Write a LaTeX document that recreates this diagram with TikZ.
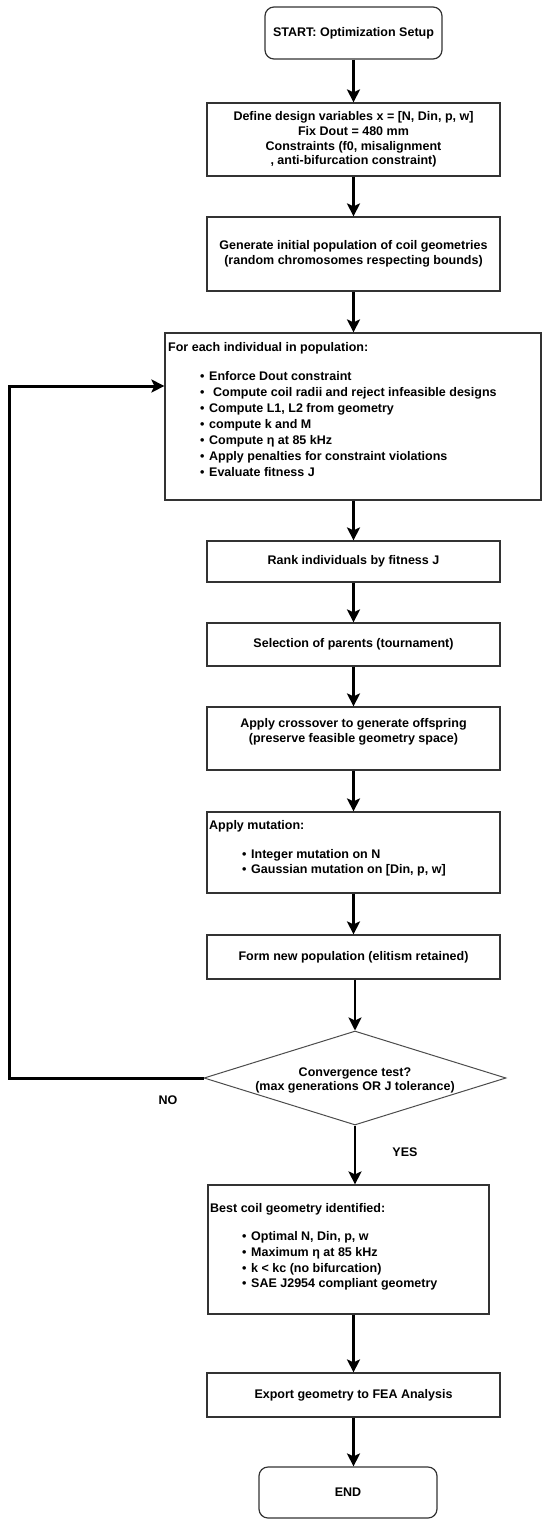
\documentclass[tikz,border=0pt]{standalone}
\usepackage{fontspec}
\setmainfont{Liberation Sans}
\usetikzlibrary{arrows.meta,shapes.geometric}
\begin{document}
\begin{tikzpicture}[x=1pt,y=-1pt,
  font=\fontsize{12.5}{14.8}\selectfont\bfseries,
  box/.style={draw=black!80, line width=1.2pt, inner sep=0pt, fill=white, align=center},
  rbox/.style={box, rounded corners=9pt},
  arr/.style={line width=2.6pt, -{Stealth[length=13pt,width=13pt,inset=3pt]}},
  loopline/.style={line width=3pt, -{Stealth[length=13pt,width=13pt,inset=3pt]}},
  txt/.style={inner sep=0pt, align=center},
  lt/.style={inner sep=0pt, anchor=base west},
  lbl/.style={inner sep=0pt},
]
\useasboundingbox (0,0) rectangle (550,1524);

% boxes
\node[rbox, minimum width=177pt, minimum height=52pt] (start) at (353.5,33) {START: Optimization Setup};
\node[box, minimum width=293pt, minimum height=73pt] (def) at (353.5,139.5)
  {Define design variables x = [N, Din, p, w]\\Fix Dout = 480 mm\\Constraints (f0, misalignment\\, anti-bifurcation constraint)};
\node[box, minimum width=293pt, minimum height=74pt] (gen) at (353.5,254)
  {Generate initial population of coil geometries\\(random chromosomes respecting bounds)};
\node[box, minimum width=376pt, minimum height=167pt] (each) at (353,416.5) {};
\node[box, minimum width=293pt, minimum height=41pt] (rank) at (353.5,561.5) {Rank individuals by fitness J};
\node[box, minimum width=293pt, minimum height=43pt] (sel) at (353.5,644.5) {Selection of parents (tournament)};
\node[box, minimum width=293pt, minimum height=63pt] (cross) at (353.5,738.5) {};
\node[box, minimum width=293pt, minimum height=81pt] (mut) at (353.5,852.5) {};
\node[box, minimum width=293pt, minimum height=44pt] (form) at (353.5,957) {Form new population (elitism retained)};
\node[draw=black!70, line width=1pt, shape=diamond, inner sep=0pt, minimum width=302pt, minimum height=94pt, fill=white] (conv) at (355,1078) {};
\node[box, minimum width=281pt, minimum height=129pt] (best) at (348.5,1249.5) {};
\node[box, minimum width=293pt, minimum height=44pt] (export) at (353.5,1395) {Export geometry to FEA Analysis};
\node[rbox, minimum width=178pt, minimum height=51pt] (end) at (348,1492.5) {END};

% texts inside boxes
\node[txt] (crosst) at (353.5,731.5) {Apply crossover to generate offspring\\(preserve feasible geometry space)};
\node[txt] (convt) at (355,1080.5) {Convergence test?\\(max generations OR J tolerance)};

\node[lt] (e0) at (168,351) {For each individual in population:};
\node[lt] (e1) at (200,380) {\makebox[9pt][l]{\textbullet}Enforce Dout constraint};
\node[lt] (e2) at (200,396) {\makebox[13pt][l]{\textbullet}Compute coil radii and reject infeasible designs};
\node[lt] (e3) at (200,412) {\makebox[9pt][l]{\textbullet}Compute L1, L2 from geometry};
\node[lt] (e4) at (200,428) {\makebox[9pt][l]{\textbullet}compute k and M};
\node[lt] (e5) at (200,444) {\makebox[9pt][l]{\textbullet}Compute η at 85 kHz};
\node[lt] (e6) at (200,460) {\makebox[9pt][l]{\textbullet}Apply penalties for constraint violations};
\node[lt] (e7) at (200,476) {\makebox[9pt][l]{\textbullet}Evaluate fitness J};

\node[lt] (m0) at (209,829) {Apply mutation:};
\node[lt] (m1) at (242,858) {\makebox[9pt][l]{\textbullet}Integer mutation on N};
\node[lt] (m2) at (242,873) {\makebox[9pt][l]{\textbullet}Gaussian mutation on [Din, p, w]};

\node[lt] (b0) at (210,1212) {Best coil geometry identified:};
\node[lt] (b1) at (242,1240) {\makebox[9pt][l]{\textbullet}Optimal N, Din, p, w};
\node[lt] (b2) at (242,1256) {\makebox[9pt][l]{\textbullet}Maximum η at 85 kHz};
\node[lt] (b3) at (242,1272) {\makebox[9pt][l]{\textbullet}k < kc (no bifurcation)};
\node[lt] (b4) at (242,1287) {\makebox[9pt][l]{\textbullet}SAE J2954 compliant geometry};

% labels
\node[lbl] (no) at (168,1100) {NO};
\node[lbl] (yes) at (405,1152) {YES};

% connectors
\draw[arr] (start.south -| def.north) -- (def.north);
\draw[arr] (def.south) -- (gen.north);
\draw[arr] (gen.south) -- (gen.south |- each.north);
\draw[arr] (each.south -| rank.north) -- (rank.north);
\draw[arr] (rank.south) -- (sel.north);
\draw[arr] (sel.south) -- (cross.north);
\draw[arr] (cross.south) -- (mut.north);
\draw[arr] (mut.south) -- (form.north);
\draw[arr] (form.south -| conv.north) -- (conv.north);
\draw[arr] (conv.south) -- (conv.south |- best.north);
\draw[arr] (best.south -| export.north) -- (export.north);
\draw[arr] (export.south) -- (export.south |- end.north);

\coordinate (lp1) at (9,1078);
\coordinate (lp2) at (9,386);
\draw[loopline] (conv.west) -- (lp1) -- (lp2) -- (lp2 -| each.west);
\end{tikzpicture}
\end{document}
